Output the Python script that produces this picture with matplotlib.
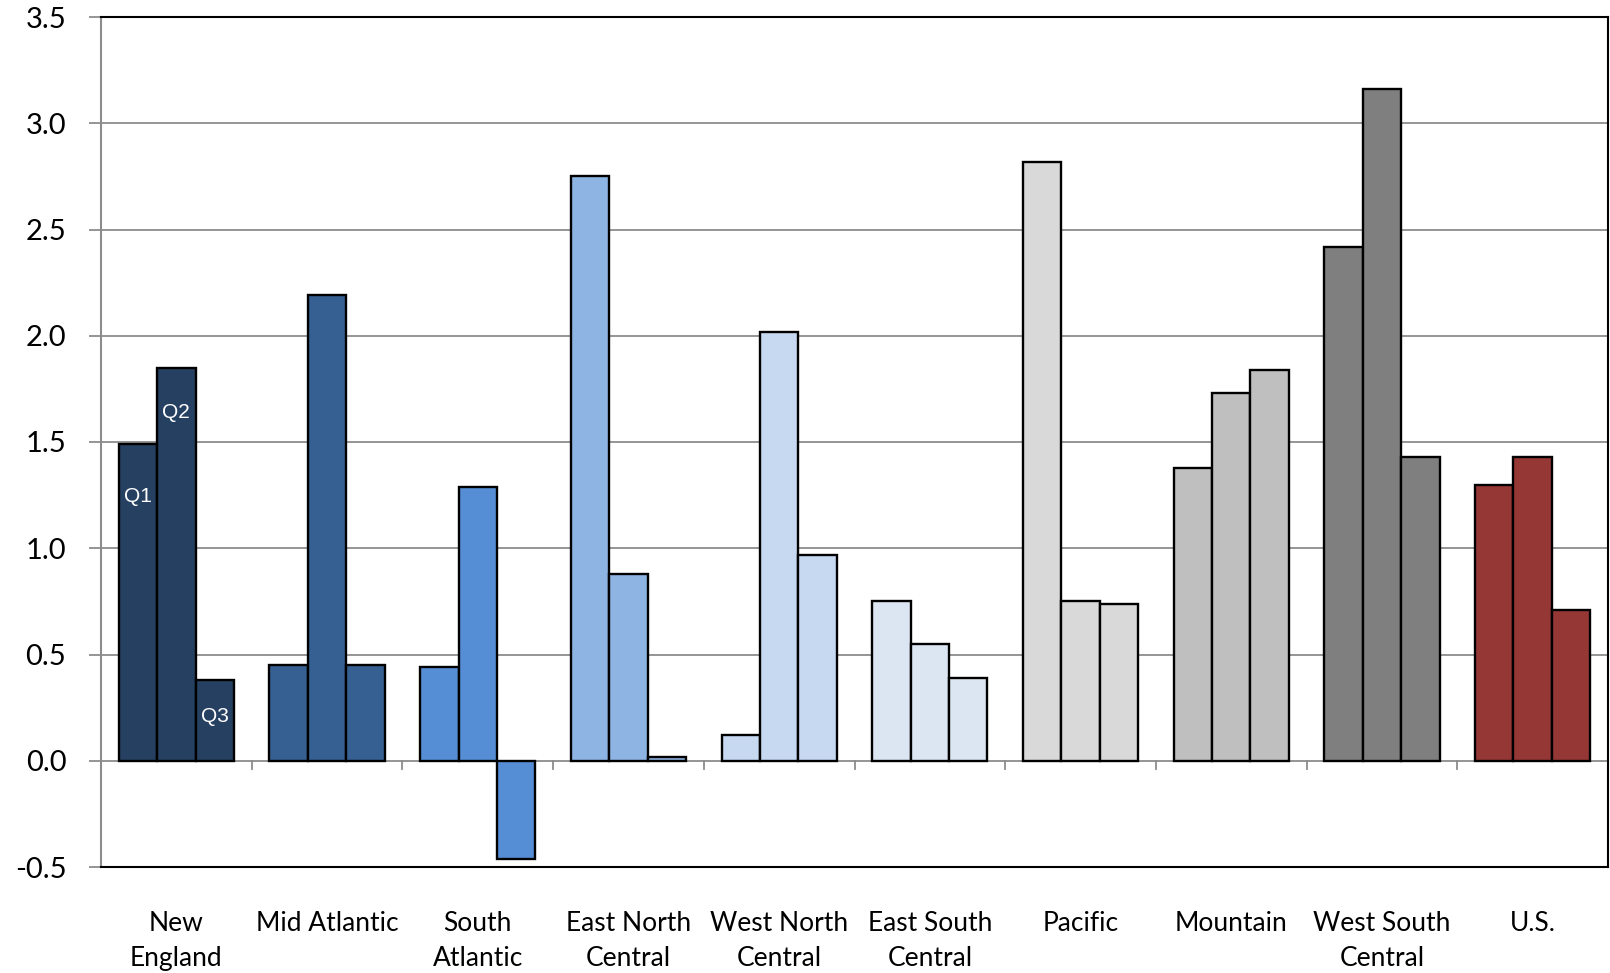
import matplotlib
matplotlib.use("Agg")
import matplotlib.pyplot as plt
import numpy as np

categories = ["New\nEngland", "Mid Atlantic", "South\nAtlantic", "East North\nCentral",
              "West North\nCentral", "East South\nCentral", "Pacific", "Mountain",
              "West South\nCentral", "U.S."]
q1 = [1.49, 0.45, 0.44, 2.75, 0.12, 0.75, 2.82, 1.38, 2.42, 1.30]
q2 = [1.85, 2.19, 1.29, 0.88, 2.02, 0.55, 0.75, 1.73, 3.16, 1.43]
q3 = [0.38, 0.45, -0.46, 0.02, 0.97, 0.39, 0.74, 1.84, 1.43, 0.71]
colors = ["#254061", "#376092", "#558ED5", "#8EB4E3", "#C6D9F1",
          "#DCE6F2", "#D9D9D9", "#BFBFBF", "#7F7F7F", "#953735"]
quarter_labels = ["Q1", "Q2", "Q3"]
yticks = [-0.5, 0.0, 0.5, 1.0, 1.5, 2.0, 2.5, 3.0, 3.5]

fig = plt.figure(figsize=(16.1, 9.73), dpi=100)
ax = fig.add_axes([101/1610, 1 - 867/973, (1608-101)/1610, (867-17)/973])

n = len(categories)
x = np.arange(n)
w = 0.255
grid_c = "#8C8C8C"

ax.set_ylim(-0.5, 3.5)
ax.set_xlim(-0.5, n - 0.5)
ax.set_yticks(yticks)
ax.set_yticklabels([f"{v:.1f}" for v in yticks])
for v in yticks[1:-1]:
    ax.axhline(v, color=grid_c, lw=1.3, zorder=0)

for j, series in enumerate([q1, q2, q3]):
    ax.bar(x + (j - 1) * w, series, width=w, color=colors, edgecolor="black",
           linewidth=1.7, zorder=3)

# zero-line category ticks
for b in np.arange(n + 1) - 0.5:
    ax.plot([b, b], [0, -0.038], color=grid_c, lw=1.3, zorder=2, clip_on=False)

# Q labels on New England
q_label_y = [1.245, 1.64, 0.207]
for j, (lab, yy) in enumerate(zip(quarter_labels, q_label_y)):
    ax.text(x[0] + (j - 1) * w, yy, lab, color="white", ha="center", va="center",
            fontsize=15, family="Liberation Sans", zorder=5)

ax.set_xticks(x)
ax.set_xticklabels(categories, fontsize=19, family="Lato", linespacing=1.5)
ax.tick_params(axis="x", length=0, pad=32)
ax.tick_params(axis="y", length=9, width=1.3, color=grid_c, pad=16, labelsize=21)
for lab in ax.get_yticklabels():
    lab.set_family("Lato")

for s in ["top", "right", "bottom"]:
    ax.spines[s].set_color("black")
    ax.spines[s].set_linewidth(1.5)
ax.spines["left"].set_color(grid_c)
ax.spines["left"].set_linewidth(1.5)

fig.savefig("out.png", dpi=100)
